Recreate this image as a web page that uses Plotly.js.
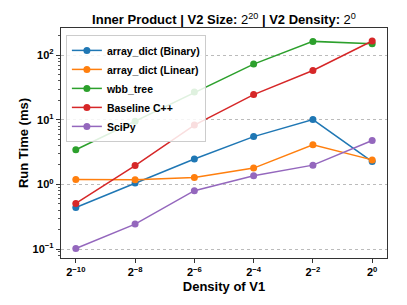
<!DOCTYPE html>
<html>
<head>
<meta charset="utf-8">
<script src="https://cdn.plot.ly/plotly-3.0.1.min.js"></script>
<style>html,body{margin:0;padding:0;background:#fff;}#chart{width:407px;height:305px;}</style>
</head>
<body>
<div id="chart"></div>
<script>
// Density of V1 as powers of two (exponents)
const densityExp = [-10, -8, -6, -4, -2, 0];
const xTickText = ['2<sup>−10</sup>', '2<sup>−8</sup>', '2<sup>−6</sup>', '2<sup>−4</sup>', '2<sup>−2</sup>', '2<sup>0</sup>'];

const seriesNames = ['array_dict (Binary)', 'array_dict (Linear)', 'wbb_tree', 'Baseline C++', 'SciPy'];
const arrayDictBinary = [0.44, 1.05, 2.47, 5.5, 10.1, 2.26];
const arrayDictLinear = [1.19, 1.18, 1.28, 1.79, 4.1, 2.40];
const wbbTree        = [3.44, 9.5, 27, 73, 164, 151];
const baselineCpp    = [0.507, 1.96, 8.3, 24.6, 58, 166];
const sciPy          = [0.102, 0.243, 0.80, 1.36, 1.99, 4.78];

const yTickVals = [0.1, 1, 10, 100];
const yTickText = ['10<sup>−1</sup>', '10<sup>0</sup>', '10<sup>1</sup>', '10<sup>2</sup>'];
const yMinorVals = [0.08, 0.09, 0.2, 0.3, 0.4, 0.5, 0.6, 0.7, 0.8, 0.9, 2, 3, 4, 5, 6, 7, 8, 9,
                    20, 30, 40, 50, 60, 70, 80, 90, 200];

const colors = ['#1f77b4', '#ff7f0e', '#2ca02c', '#d62728', '#9467bd'];
const allSeries = [arrayDictBinary, arrayDictLinear, wbbTree, baselineCpp, sciPy];

const traces = allSeries.map((ys, i) => ({
  x: densityExp,
  y: ys,
  name: seriesNames[i],
  type: 'scatter',
  mode: 'lines+markers',
  line: {color: colors[i], width: 1.5},
  marker: {color: colors[i], size: 7}
}));

const fontFam = '"Liberation Sans", Arial, sans-serif';
const layout = {
  width: 407, height: 305,
  margin: {l: 61, r: 20, t: 28, b: 47},
  paper_bgcolor: '#fff', plot_bgcolor: '#fff',
  font: {family: fontFam, color: '#000'},
  showlegend: true,
  title: {
    text: '<b>Inner Product | V2 Size: </b>2<sup>20</sup><b> | V2 Density: </b>2<sup>0</sup>',
    font: {size: 13, family: fontFam, color: '#000'},
    x: 0.5, xanchor: 'center', xref: 'paper',
    y: 0.935, yanchor: 'middle', yref: 'container'
  },
  xaxis: {
    type: 'linear',
    range: [-10.5, 0.5],
    tickvals: densityExp,
    ticktext: xTickText,
    ticks: 'outside', ticklen: 4, tickcolor: '#333',
    tickfont: {size: 11, weight: 'bold'},
    showgrid: false, zeroline: false,
    showline: true, mirror: true, linecolor: '#333', linewidth: 1.2,
    title: {text: 'Density of V1', font: {size: 13, weight: 'bold'}, standoff: 4}
  },
  yaxis: {
    type: 'log',
    range: [-1.139, 2.422],
    tickvals: yTickVals,
    ticktext: yTickText,
    ticks: 'outside', ticklen: 4, tickcolor: '#333',
    tickfont: {size: 11, weight: 'bold'},
    showgrid: true, gridcolor: '#aaa', griddash: 'dot', gridwidth: 0.8,
    minor: {tickmode: 'array', tickvals: yMinorVals, ticks: 'outside', ticklen: 2, tickcolor: '#555', showgrid: false},
    zeroline: false,
    showline: true, mirror: true, linecolor: '#333', linewidth: 1.2,
    title: {text: 'Run Time (ms)', font: {size: 13, weight: 'bold'}, standoff: 1}
  },
  legend: {
    x: 0.015, y: 0.97, xanchor: 'left', yanchor: 'top',
    bgcolor: 'rgba(255,255,255,0.85)', bordercolor: '#ccc', borderwidth: 1,
    font: {size: 10.5, weight: 'bold', family: fontFam},
    itemwidth: 30, tracegroupgap: 0
  }
};

Plotly.newPlot('chart', traces, layout, {displayModeBar: false, staticPlot: true});
</script>
</body>
</html>
